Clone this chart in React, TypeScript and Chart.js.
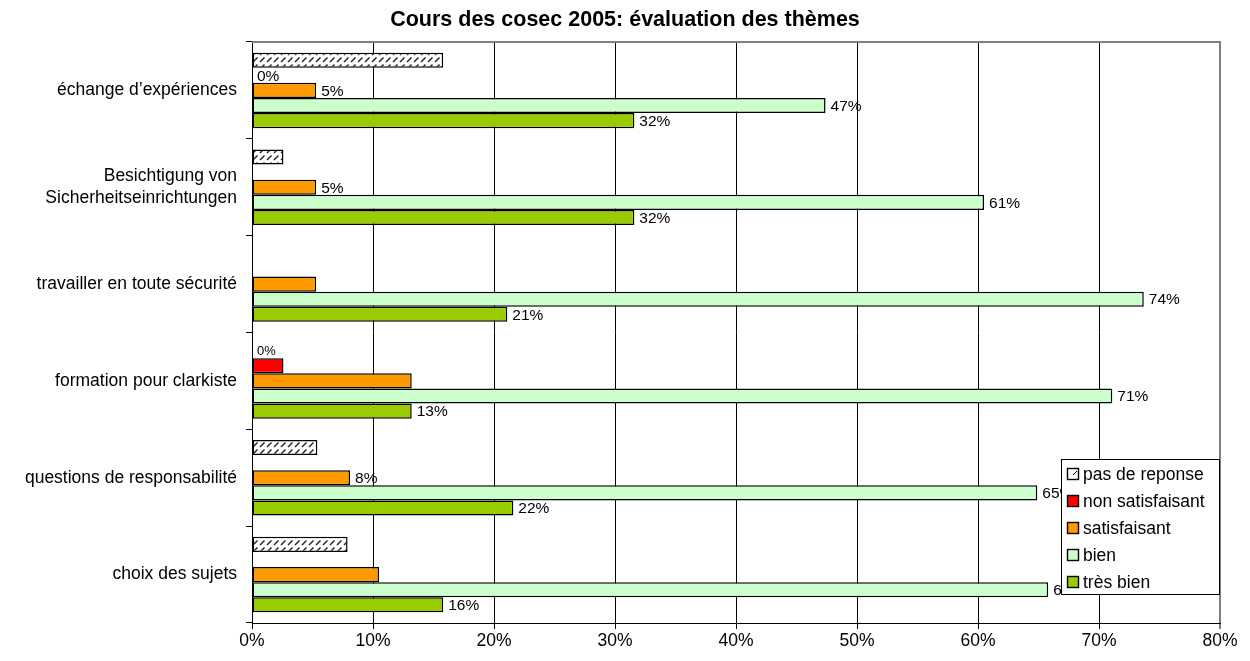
import React, { useEffect, useRef } from "react";
import { Chart, registerables } from "chart.js";

Chart.register(...registerables);

const TITLE = "Cours des cosec 2005: évaluation des thèmes";
const categories: (string | string[])[] = [
  "échange d’expériences",
  ["Besichtigung von", "Sicherheitseinrichtungen"],
  "travailler en toute sécurité",
  "formation pour clarkiste",
  "questions de responsabilité",
  "choix des sujets",
];
const seriesNames = ["pas de reponse", "non satisfaisant", "satisfaisant", "bien", "très bien"];
const pasDeReponse = [15.8, 2.6, 0, 0, 5.4, 7.9];
const nonSatisfaisant = [0, 0, 0, 2.6, 0, 0];
const satisfaisant = [5.3, 5.3, 5.3, 13.2, 8.1, 10.5];
const bien = [47.4, 60.5, 73.7, 71.1, 64.9, 65.8];
const tresBien = [31.6, 31.6, 21.1, 13.2, 21.6, 15.8];
// which bars carry a value label
const showPasDeReponse = [false, false, false, true, false, false];
const showNonSatisfaisant = [true, false, false, false, false, false];
const showSatisfaisant = [true, true, false, false, true, false];
const showBien = [true, true, true, true, true, true];
const showTresBien = [true, true, true, true, true, true];
const xTicks = [0, 10, 20, 30, 40, 50, 60, 70, 80];

const FONT = "'Liberation Sans', Arial, sans-serif";
const CAT_PCT = 0.78;

function makeHatch(): CanvasPattern | string {
  const c = document.createElement("canvas");
  c.width = 7;
  c.height = 7;
  const g = c.getContext("2d");
  if (!g) return "#fff";
  g.fillStyle = "#fff";
  g.fillRect(0, 0, 7, 7);
  g.strokeStyle = "#222";
  g.lineWidth = 1.4;
  g.beginPath();
  g.moveTo(1, 6);
  g.lineTo(5.5, 1.5);
  g.stroke();
  const p = g.createPattern(c, "repeat");
  return p || "#fff";
}

export default function App() {
  const ref = useRef<HTMLCanvasElement | null>(null);

  useEffect(() => {
    if (!ref.current) return;
    const hatch = makeHatch();
    const values = [pasDeReponse, nonSatisfaisant, satisfaisant, bien, tresBien];
    const shows = [showPasDeReponse, showNonSatisfaisant, showSatisfaisant, showBien, showTresBien];
    const colors: any[] = [hatch, "#FF0000", "#FF9900", "#CCFFCC", "#99CC00"];

    const labelsPlugin = {
      id: "valueLabels",
      afterDatasetsDraw(chart: any) {
        const ctx = chart.ctx;
        const xs = chart.scales.x;
        const ys = chart.scales.y;
        const band = ys.getPixelForValue(1) - ys.getPixelForValue(0);
        const slot = (band * CAT_PCT) / values.length;
        ctx.save();
        ctx.fillStyle = "#000";
        ctx.textAlign = "left";
        ctx.textBaseline = "middle";
        values.forEach((arr, i) => {
          ctx.font = (i === 0 ? "13px " : "15.5px ") + FONT;
          arr.forEach((v, j) => {
            if (!shows[i][j]) return;
            const y = ys.getPixelForValue(j) - (band * CAT_PCT) / 2 + slot * (i + 0.5) + 1;
            const x = xs.getPixelForValue(v) + 5;
            ctx.fillText(Math.round(v) + "%", x, y);
          });
        });
        ctx.restore();
      },
    };

    const framePlugin = {
      id: "frameTitleLegend",
      afterDraw(chart: any) {
        const ctx = chart.ctx;
        const a = chart.chartArea;
        ctx.save();
        // top plot border
        ctx.strokeStyle = "#808080";
        ctx.lineWidth = 2;
        ctx.beginPath();
        ctx.moveTo(a.left, a.top);
        ctx.lineTo(a.right + 1, a.top);
        ctx.stroke();
        // title
        ctx.fillStyle = "#000";
        ctx.font = "bold 21.5px " + FONT;
        ctx.textAlign = "center";
        ctx.textBaseline = "middle";
        ctx.fillText(TITLE, chart.width / 2, 20);
        // legend
        const lx = 1061, ly = 459, lw = 158, lh = 135;
        ctx.fillStyle = "#fff";
        ctx.fillRect(lx, ly, lw, lh);
        ctx.strokeStyle = "#000";
        ctx.lineWidth = 1;
        ctx.strokeRect(lx + 0.5, ly + 0.5, lw, lh);
        ctx.font = "17.5px " + FONT;
        ctx.textAlign = "left";
        seriesNames.forEach((name, i) => {
          const cy = ly + 15 + i * 27;
          ctx.fillStyle = i === 0 ? "#fff" : colors[i];
          ctx.fillRect(lx + 6, cy - 6, 12, 12);
          if (i === 0) {
            ctx.strokeStyle = "#000";
            ctx.lineWidth = 1;
            ctx.beginPath();
            ctx.moveTo(lx + 12, cy + 1);
            ctx.lineTo(lx + 16, cy - 3);
            ctx.stroke();
          }
          ctx.strokeStyle = "#000";
          ctx.lineWidth = 1.4;
          ctx.strokeRect(lx + 6.5, cy - 5.5, 11, 11);
          ctx.fillStyle = "#000";
          ctx.fillText(name, lx + 22, cy + 1);
        });
        ctx.restore();
      },
    };

    const chart = new Chart(ref.current, {
      type: "bar",
      data: {
        labels: categories as any,
        datasets: values.map((arr, i) => ({
          label: seriesNames[i],
          data: arr.map((v) => (v === 0 ? null : v)) as any,
          backgroundColor: colors[i],
          borderColor: "#000",
          borderWidth: 1.5,
          borderSkipped: false,
          barPercentage: 1,
          categoryPercentage: CAT_PCT,
        })),
      },
      options: {
        indexAxis: "y",
        animation: false,
        responsive: false,
        devicePixelRatio: 1,
        layout: { padding: { left: 0, right: 30, top: 42, bottom: 0 } },
        plugins: {
          legend: { display: false },
          title: { display: false },
          tooltip: { enabled: false },
        },
        scales: {
          x: {
            type: "linear",
            min: 0,
            max: 80,
            afterBuildTicks: (scale: any) => {
              scale.ticks = xTicks.map((v) => ({ value: v }));
            },
            afterFit: (scale: any) => {
              scale.height = 38;
            },
            ticks: {
              color: "#000",
              font: { family: FONT, size: 17.5 },
              padding: 2,
              maxRotation: 0,
              callback: (v: any) => v + "%",
            },
            grid: {
              color: (c: any) => (c.tick && c.tick.value === 80 ? "#808080" : "#000"),
              lineWidth: (c: any) => (c.tick && c.tick.value === 80 ? 2 : 1),
              tickColor: "#000",
              tickWidth: 1,
              tickLength: 6,
              drawTicks: true,
            },
            border: { display: true, color: "#000", width: 1 },
          },
          y: {
            type: "category",
            offset: true,
            afterFit: (scale: any) => {
              scale.width = 252;
            },
            ticks: {
              color: "#000",
              font: { family: FONT, size: 17.5, lineHeight: 1.27 },
              padding: 9,
            },
            grid: {
              offset: true,
              drawOnChartArea: false,
              drawTicks: true,
              tickLength: 6,
              color: "#000",
              tickColor: "#000",
            },
            border: { display: true, color: "#000", width: 1 },
          },
        },
      },
      plugins: [labelsPlugin, framePlugin],
    } as any);

    return () => chart.destroy();
  }, []);

  return (
    <div style={{ position: "fixed", left: 0, top: 0, width: 1250, height: 661, background: "#fff" }}>
      <canvas ref={ref} width={1250} height={661} style={{ display: "block" }} />
    </div>
  );
}
